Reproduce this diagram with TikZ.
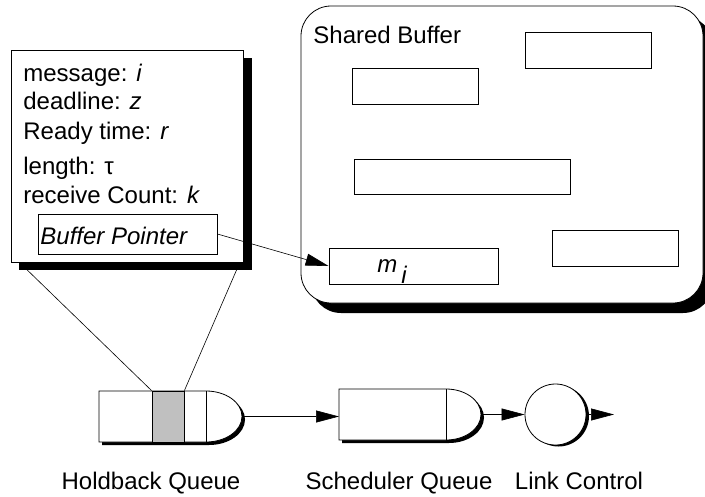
\documentclass[tikz,border=0pt]{standalone}
\usepackage{fontspec}
\setmainfont{Liberation Sans}
\usetikzlibrary{arrows.meta}
\definecolor{cellgray}{RGB}{192,192,192}
\begin{document}
\begin{tikzpicture}[x=1pt,y=-1pt,line width=0.8pt,
  box/.style={draw,fill=white,rectangle,inner sep=0pt},
  txt/.style={font=\fontsize{24}{26}\selectfont,inner sep=0pt,anchor=base west},
  ctxt/.style={font=\fontsize{24}{26}\selectfont,inner sep=0pt,anchor=base},
  arr/.style={-{Triangle[length=23pt,width=12pt]}},
  thin/.style={line width=0.6pt}]
\useasboundingbox (0,0) rectangle (705,496);

% ---------- connector lines from info box to the queue cell (drawn first, behind shadow)
\coordinate (la) at (19,262);
\coordinate (ra) at (240,262);
\node[box,fill=cellgray,minimum width=32pt,minimum height=51pt] (cell) at (168,416.5) {};
\draw[thin] (la) -- (cell.north west);
\draw[thin] (ra) -- (cell.north east);

% ---------- info box
\fill (19,58) rectangle (252,270);
\node[box,minimum width=232pt,minimum height=212pt] (info) at (127,156) {};
\node[txt] (t1) at (23,81.5) {message: \textit{i}};
\node[txt] (t2) at (23,109) {deadline: \textit{z}};
\node[txt] (t3) at (23,139) {Ready time: \textit{r}};
\node[txt] (t4) at (23,174) {length: τ};
\node[txt] (t5) at (23,203) {receive Count: \textit{k}};
\node[box,minimum width=179pt,minimum height=40pt] (bp) at (127.5,234) {};
\node[txt] (bptxt) at (40,244) {\textit{Buffer Pointer}};

% ---------- shared buffer
\fill[rounded corners=30pt] (311,16) rectangle (713,313);
\node[box,rounded corners=30pt,minimum width=402pt,minimum height=297pt] (sb) at (502,154.5) {};
\node[txt] (sbt) at (313,43) {Shared Buffer};
\node[box,minimum width=126pt,minimum height=36pt] (b1) at (588,50) {};
\node[box,minimum width=126pt,minimum height=36pt] (b2) at (415,86) {};
\node[box,minimum width=216pt,minimum height=35pt] (b3) at (462,176.5) {};
\node[box,minimum width=126pt,minimum height=36pt] (b4) at (615,248) {};
\node[box,minimum width=169pt,minimum height=36pt] (mi) at (413.5,266) {};
\node[txt] (mit) at (377,272) {\textit{m}\raisebox{-11pt}{\,\textit{i}}};
\draw[thin,arr] (bp.east) -- (mi.west);

% ---------- holdback queue
\fill[shift={(3,3)}] (99,391) -- (206,391) arc[start angle=-90,end angle=90,x radius=36,y radius=25.5] -- (99,442) -- cycle;
\draw[fill=white] (99,391) -- (206,391) arc[start angle=-90,end angle=90,x radius=36,y radius=25.5] -- (99,442) -- cycle;
\node[box,fill=cellgray,minimum width=32pt,minimum height=51pt] (cell2) at (168,416.5) {};
\draw (206,391) -- (206,442);
\coordinate (hqE) at (242,416.5);

% ---------- scheduler queue
\fill[shift={(3,3)}] (339,389) -- (446,389) arc[start angle=-90,end angle=90,x radius=35,y radius=25.5] -- (339,440) -- cycle;
\draw[fill=white] (339,389) -- (446,389) arc[start angle=-90,end angle=90,x radius=35,y radius=25.5] -- (339,440) -- cycle;
\draw (446,389) -- (446,440);
\coordinate (sqW) at (339,416.5);
\coordinate (sqE) at (481,414.5);

% ---------- link control
\fill (558.5,416) circle[radius=30.5pt];
\node[draw,fill=white,circle,minimum size=61pt,inner sep=0pt] (lc) at (555.5,414.5) {};
\coordinate (out) at (614,414.5);

% ---------- arrows
\draw[thin,arr] (hqE) -- (sqW);
\draw[thin,arr] (sqE) -- (lc.west);
\draw[thin,arr] (lc.east) -- (out);

% ---------- labels
\node[ctxt] (l1) at (151,489) {Holdback Queue};
\node[ctxt] (l2) at (399,489) {Scheduler Queue};
\node[ctxt] (l3) at (579,489) {Link Control};
\end{tikzpicture}
\end{document}
